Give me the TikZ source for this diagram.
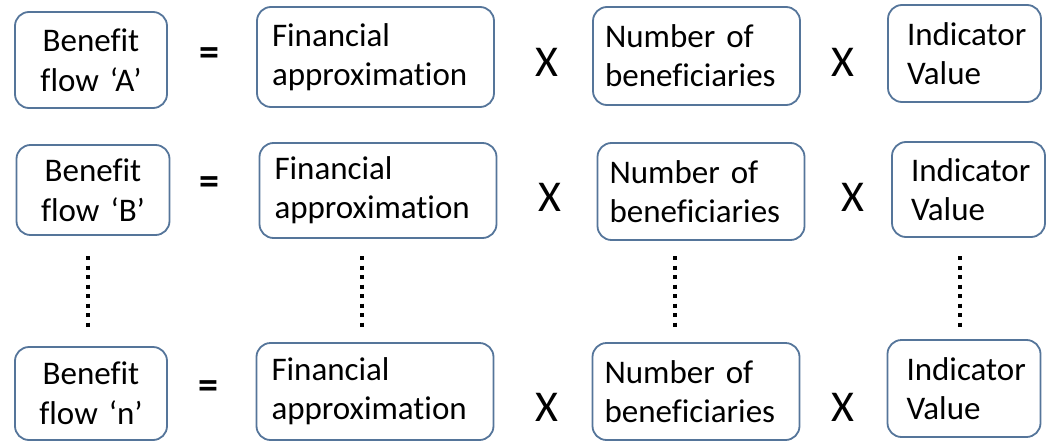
\documentclass[tikz,border=0pt]{standalone}
\usepackage{fontspec}
\setmainfont{Carlito}[Ligatures=CommonOff]
\newcommand{\myboxfont}{\fontsize{33}{39}\selectfont\spaceskip=0.17em\relax}
\newcommand{\mybenfont}{\fontsize{33}{40}\selectfont\spaceskip=0.17em\relax}
\tikzset{
  box/.style={draw=boxline, line width=1.8pt, rounded corners=14pt, inner ysep=0pt,
              font=\myboxfont, align=left},
  bbox/.style={box, font=\mybenfont, align=center, inner xsep=0pt, text width=140pt},
  fbox/.style={box, inner xsep=15pt, text width=207pt},
  nbox/.style={box, inner xsep=12pt, text width=183pt},
  ibox/.style={box, inner xsep=19pt, text width=115pt},
  op/.style={inner sep=0pt, font=\fontsize{44}{44}\selectfont},
  eq/.style={inner sep=0pt, font=\fontsize{40}{40}\selectfont\bfseries},
  dotline/.style={line width=4pt, dash pattern=on 4pt off 5.5pt}
}
\definecolor{boxline}{HTML}{55759A}
\begin{document}
\begin{tikzpicture}[x=1pt,y=-1pt]
\useasboundingbox (0,0) rectangle (1053,442);
% Row 1
\node[bbox, minimum width=152pt, minimum height=96pt] (B1) at (91,60) {Benefit\\flow ‘A’};
\node[fbox, minimum height=100pt] (F1) at (375.5,57) {Financial\\approximation};
\node[nbox, minimum height=98pt] (N1) at (696.5,56) {Number of\\beneficiaries};
\node[ibox, minimum height=97pt] (I1) at (964.5,53.5) {Indicator\\Value};
\node[eq] (E1) at (209,57) {=};
\node[op] (X1a) at (547,62) {X};
\node[op] (X1b) at (843,62) {X};
% Row 2
\node[bbox, minimum width=153pt, minimum height=90pt] (B2) at (93,190) {Benefit\\flow ‘B’};
\node[fbox, minimum height=95pt] (F2) at (378,190.5) {Financial\\approximation};
\node[nbox, minimum height=97pt] (N2) at (701,191.5) {Number of\\beneficiaries};
\node[ibox, minimum height=95pt] (I2) at (968.5,189.5) {Indicator\\Value};
\node[eq] (E2) at (209,186) {=};
\node[op] (X2a) at (550,197) {X};
\node[op] (X2b) at (853,197) {X};
% Row 3
\node[bbox, minimum width=152pt, minimum height=93pt] (B3) at (91,393.5) {Benefit\\flow ‘n’};
\node[fbox, minimum height=97pt] (F3) at (375,391.5) {Financial\\approximation};
\node[nbox, minimum height=97pt] (N3) at (696,391.5) {Number of\\beneficiaries};
\node[ibox, minimum height=97pt] (I3) at (964,388.5) {Indicator\\Value};
\node[eq] (E3) at (208,390) {=};
\node[op] (X3a) at (547,407) {X};
\node[op] (X3b) at (843,407) {X};
% Dotted continuations
\coordinate (d1a) at (88,256); \coordinate (d1b) at (88,327);
\coordinate (d2a) at (362,256); \coordinate (d2b) at (362,327);
\coordinate (d3a) at (675,256); \coordinate (d3b) at (675,327);
\coordinate (d4a) at (960,256); \coordinate (d4b) at (960,327);
\draw[dotline] (d1a) -- (d1b);
\draw[dotline] (d2a) -- (d2b);
\draw[dotline] (d3a) -- (d3b);
\draw[dotline] (d4a) -- (d4b);
\end{tikzpicture}
\end{document}
